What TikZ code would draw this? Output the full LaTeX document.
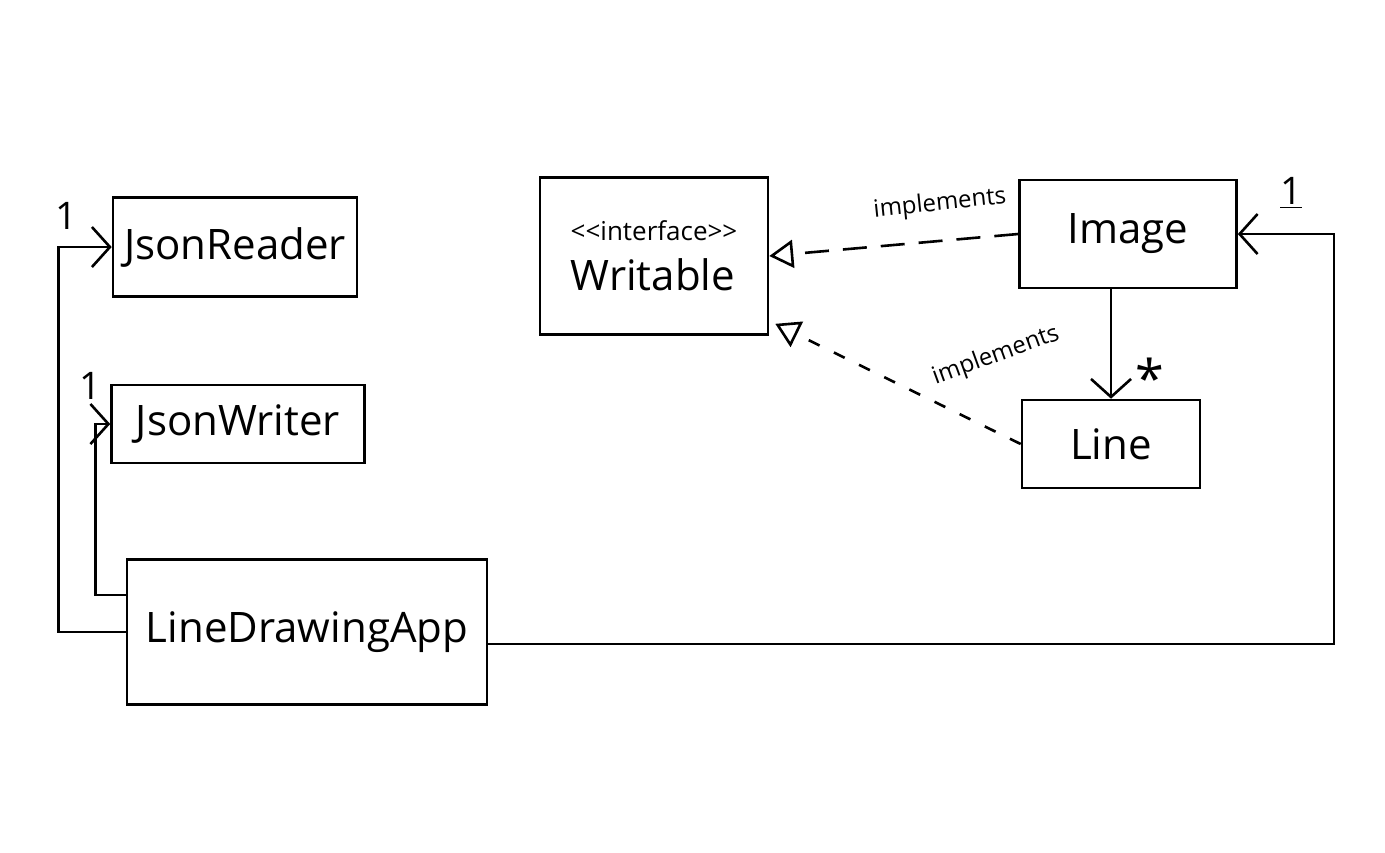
\documentclass[tikz,border=0pt]{standalone}
\usepackage{fontspec}
\setmainfont{Open Sans}
\usetikzlibrary{arrows.meta,calc}

\begin{document}
\begin{tikzpicture}[x=0.5pt,y=0.5pt,yscale=-1,xscale=1,
	classbox/.style={draw, line width=1.3pt, inner sep=0pt, font=\fontsize{21}{25}\selectfont},
	assoc/.style={line width=1.3pt, -{Straight Barb[length=9pt,width=20pt,line width=1.3pt]}},
	realize/.style={line width=1.3pt, dash pattern=on 12pt off 7pt, -{Triangle[open,length=12pt,width=14pt,line width=1.3pt]}},
	multlabel/.style={font=\fontsize{19}{22}\selectfont, inner sep=1pt},
	implabel/.style={font=\fontsize{12}{14}\selectfont, inner sep=1pt}]
		% Set diagram frame: 1385 wide, 852 high
		\useasboundingbox (0,0) rectangle (1385,852);

		% The classes on the left
		\node[classbox, minimum width=122pt, minimum height=49.5pt] (reader) at (235,247) {JsonReader};
		\node[classbox, minimum width=126.5pt, minimum height=39pt] (writer) at (238,424) {JsonWriter};
		\node[classbox, minimum width=180pt, minimum height=72.5pt] (app) at (307,632) {LineDrawingApp};

		% The interface in the middle
		\node[classbox, minimum width=114pt, minimum height=78.5pt, align=left] (writable) at (654,256) {{\fontsize{13}{16}\selectfont <\kern0pt<interface>\kern0pt>}\\Writable};

		% The classes on the right
		\node[classbox, minimum width=108.5pt, minimum height=54pt] (image) at (1128,234) {Image};
		\node[classbox, minimum width=89pt, minimum height=44pt] (line) at (1111,444) {Line};

		% LineDrawingApp has one JsonReader and one JsonWriter
		\draw[assoc] (app.west) -- ++(-67,0) |- (reader.west);
		\draw[assoc] ($(app.west)+(0,-37)$) -- ++(-30,0) |- (writer.west);
		\node[multlabel] (readerone) at (66,216) {1};
		\node[multlabel] (writerone) at (90,386) {1};

		% LineDrawingApp has one Image
		\draw[assoc] ($(app.east)+(0,12)$) -| ($(image.east)+(96,0)$) -- (image.east);
		\node[multlabel] (imageone) at (1291,193) {\underline{1}};

		% Image has many Lines
		\draw[assoc] (image.south -| line.north) -- (line.north);
		\node[multlabel, font=\fontsize{26}{28}\selectfont] (linemany) at (1150,378) {*};

		% Image and Line implement Writable
		\draw[realize] (image.west) -- (writable.east);
		\draw[realize, dash pattern=on 6pt off 8pt] (line.west) -- ($(writable.south east)+(6,-12)$);
		\node[implabel, rotate=6] (impimage) at (940,204) {implements};
		\node[implabel, rotate=20] (impline) at (996,356) {implements};
	\end{tikzpicture}
\end{document}
